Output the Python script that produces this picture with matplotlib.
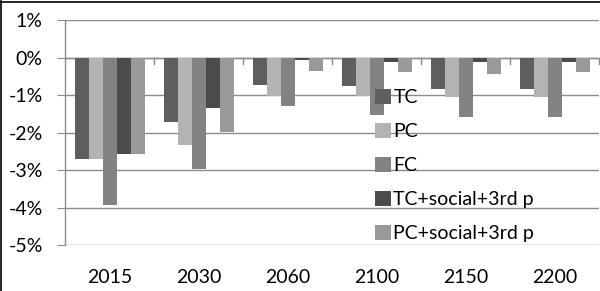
import matplotlib
matplotlib.use("Agg")
import matplotlib.pyplot as plt
import numpy as np
from matplotlib.ticker import FuncFormatter

years = ["2015", "2030", "2060", "2100", "2150", "2200"]
series_names = ["TC", "PC", "FC", "TC+social+3rd p", "PC+social+3rd p"]
tc = [-2.71, -1.73, -0.74, -0.77, -0.83, -0.83]
pc = [-2.71, -2.34, -1.02, -1.02, -1.06, -1.06]
fc = [-3.94, -2.96, -1.30, -1.54, -1.58, -1.58]
tc_soc = [-2.58, -1.34, -0.07, -0.13, -0.13, -0.13]
pc_soc = [-2.58, -1.98, -0.36, -0.38, -0.45, -0.38]
colors = ["#5e5e5e", "#b3b3b3", "#838383", "#4b4b4b", "#999999"]

plt.rcParams['font.family'] = ['Lato', 'DejaVu Sans']
FS = 14

W, H = 600, 291
fig = plt.figure(figsize=(W / 100, H / 100), dpi=100)
ax = fig.add_axes([65 / W, (H - 245) / H, (599 - 65) / W, (245 - 20) / H])

data = [tc, pc, fc, tc_soc, pc_soc]
x = np.arange(len(years))
w = 14 / 89
for k, (vals, name, c) in enumerate(zip(data, series_names, colors)):
    ax.bar(x + (k - 2) * w, vals, width=w, color=c, label=name, zorder=2)

ax.set_xlim(-0.5, len(years) - 0.5)
ax.set_ylim(-5, 1)
ax.set_yticks(np.arange(-5, 2, 1))
ax.yaxis.set_major_formatter(FuncFormatter(lambda v, p: f"{int(round(v))}%"))
ax.grid(axis='y', color='#8c8c8c', linewidth=1.0, zorder=0)
ax.set_axisbelow(True)
for s in ['top', 'right', 'bottom']:
    ax.spines[s].set_visible(False)
ax.spines['left'].set_color('#8c8c8c')
ax.spines['left'].set_linewidth(1.0)
ax.tick_params(axis='y', length=6, color='#8c8c8c', pad=10, labelsize=FS)
ax.set_xticks(x)
ax.set_xticklabels(years)
ax.tick_params(axis='x', length=0, pad=17, labelsize=FS)

# category axis at zero with tick marks at boundaries
ax.axhline(0, color='#8c8c8c', linewidth=1.0, zorder=1)
bounds = np.arange(len(years) + 1) - 0.5
for b in bounds[1:]:
    ax.plot([b, b], [0, -0.17], color='#8c8c8c', linewidth=1.0, zorder=1, clip_on=False)

leg = ax.legend(loc='upper left', bbox_to_anchor=((375 - 65) / (599 - 65), (245 - 89) / 225),
                frameon=False, handlelength=0.8, handleheight=0.8, handletextpad=0.15,
                labelspacing=0.86, fontsize=FS, borderaxespad=0, borderpad=0)

# outer frame (top and left edges visible)
fig.add_artist(plt.Line2D([0.5 / W, 0.5 / W], [0, 1 - 1 / H], transform=fig.transFigure, color='black', lw=1.2))
fig.add_artist(plt.Line2D([0, 1], [1 - 1.5 / H, 1 - 1.5 / H], transform=fig.transFigure, color='black', lw=1.2))

fig.savefig("out.png", dpi=100)
